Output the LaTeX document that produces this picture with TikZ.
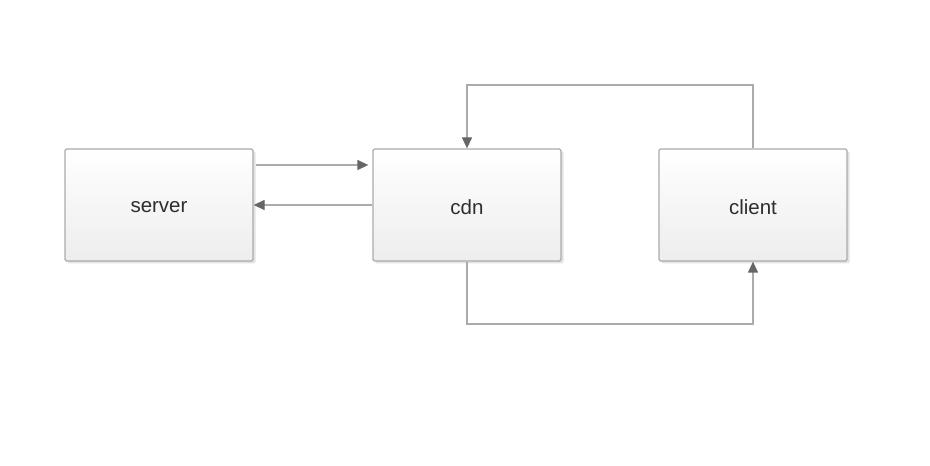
\documentclass[tikz,border=0pt]{standalone}
\usepackage{fontspec}
\setmainfont{Liberation Sans}
\usetikzlibrary{arrows.meta,shadows}
\definecolor{linegray}{HTML}{ABABAB}
\definecolor{tipgray}{HTML}{666666}
\definecolor{txtgray}{HTML}{2E2E2E}
\tikzset{
  box/.style={draw=linegray, line width=1.3pt, rounded corners=1.5pt,
    top color=white, bottom color=black!7,
    drop shadow={shadow xshift=2.5pt, shadow yshift=-2.5pt, fill=black!11, opacity=1},
    minimum width=188pt, minimum height=112pt, inner sep=0pt},
  lbl/.style={font=\fontsize{20.5}{22}\selectfont, text=txtgray},
  conn/.style={draw=linegray, line width=1.3pt,
    -{Triangle[length=11pt,width=10pt,color=tipgray]}}
}
\begin{document}
\begin{tikzpicture}[x=1pt,y=1pt]
\useasboundingbox (0,0) rectangle (930,466);
\node[box] (server) at (159,261) {};
\node[box] (cdn) at (467,261) {};
\node[box] (client) at (753,261) {};
\node[lbl] (serverlbl) at ([yshift=-2pt]server.center) {server};
\node[lbl] (cdnlbl) at ([yshift=-2pt]cdn.center) {cdn};
\node[lbl] (clientlbl) at ([yshift=-2pt]client.center) {client};
\draw[conn, shorten <=2pt, shorten >=4pt] ([yshift=40pt]server.east) -- ([yshift=40pt]cdn.west);
\draw[conn] (cdn.west) -- (server.east);
\coordinate (top) at (753,381);
\coordinate (bot) at (467,142);
\draw[conn] (client.north) -- (top) -| (cdn.north);
\draw[conn] (cdn.south) -- (bot) -| (client.south);
\end{tikzpicture}
\end{document}
